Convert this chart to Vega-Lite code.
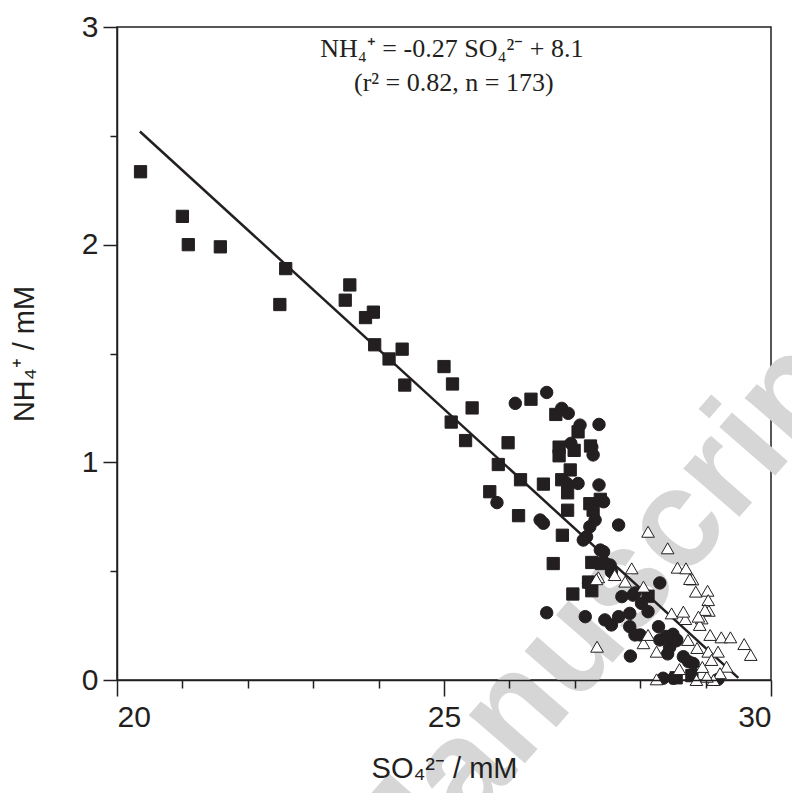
{
  "$schema": "https://vega.github.io/schema/vega-lite/v6.json",
  "width": 654,
  "height": 653,
  "autosize": {"type": "none"},
  "padding": {"left": 117, "top": 27, "right": 21, "bottom": 113},
  "background": "white",
  "config": {
    "view": {"stroke": "#231f20", "strokeWidth": 1.5},
    "axis": {
      "grid": false,
      "zindex": 2,
      "domainColor": "#231f20",
      "domainWidth": 1.5,
      "tickColor": "#231f20",
      "tickWidth": 1.5,
      "labelColor": "#231f20",
      "titleColor": "#231f20",
      "labelFont": "Liberation Sans",
      "titleFont": "Liberation Sans",
      "titleFontWeight": "normal"
    }
  },
  "datasets": {
    "pts": [
      {"site": "Middle shelf", "so4": 20.36, "nh4": 2.335},
      {"site": "Middle shelf", "so4": 21.0, "nh4": 2.13},
      {"site": "Middle shelf", "so4": 21.09, "nh4": 2.0},
      {"site": "Middle shelf", "so4": 21.58, "nh4": 1.99},
      {"site": "Middle shelf", "so4": 22.58, "nh4": 1.89},
      {"site": "Middle shelf", "so4": 22.49, "nh4": 1.725},
      {"site": "Middle shelf", "so4": 23.56, "nh4": 1.815},
      {"site": "Middle shelf", "so4": 23.49, "nh4": 1.745},
      {"site": "Middle shelf", "so4": 23.92, "nh4": 1.69},
      {"site": "Middle shelf", "so4": 23.8, "nh4": 1.665},
      {"site": "Middle shelf", "so4": 23.94, "nh4": 1.54},
      {"site": "Middle shelf", "so4": 24.36, "nh4": 1.52},
      {"site": "Middle shelf", "so4": 24.16, "nh4": 1.475},
      {"site": "Middle shelf", "so4": 24.4, "nh4": 1.355},
      {"site": "Middle shelf", "so4": 25.0, "nh4": 1.44},
      {"site": "Middle shelf", "so4": 25.13, "nh4": 1.36},
      {"site": "Middle shelf", "so4": 25.43, "nh4": 1.25},
      {"site": "Middle shelf", "so4": 25.11, "nh4": 1.185},
      {"site": "Middle shelf", "so4": 25.33, "nh4": 1.1},
      {"site": "Middle shelf", "so4": 25.98, "nh4": 1.09},
      {"site": "Middle shelf", "so4": 26.33, "nh4": 1.29},
      {"site": "Middle shelf", "so4": 26.71, "nh4": 1.22},
      {"site": "Middle shelf", "so4": 27.05, "nh4": 1.14},
      {"site": "Middle shelf", "so4": 26.76, "nh4": 1.07},
      {"site": "Middle shelf", "so4": 26.99, "nh4": 1.055},
      {"site": "Middle shelf", "so4": 26.76, "nh4": 1.03},
      {"site": "Middle shelf", "so4": 27.24, "nh4": 1.075},
      {"site": "Middle shelf", "so4": 25.83, "nh4": 0.99},
      {"site": "Middle shelf", "so4": 26.17, "nh4": 0.92},
      {"site": "Middle shelf", "so4": 26.52, "nh4": 0.9},
      {"site": "Middle shelf", "so4": 26.93, "nh4": 0.965},
      {"site": "Middle shelf", "so4": 26.8, "nh4": 0.92},
      {"site": "Middle shelf", "so4": 25.7, "nh4": 0.865},
      {"site": "Middle shelf", "so4": 26.14, "nh4": 0.755},
      {"site": "Middle shelf", "so4": 26.89, "nh4": 0.86},
      {"site": "Middle shelf", "so4": 26.89, "nh4": 0.78},
      {"site": "Middle shelf", "so4": 26.81, "nh4": 0.665},
      {"site": "Middle shelf", "so4": 27.23, "nh4": 0.81},
      {"site": "Middle shelf", "so4": 27.28, "nh4": 0.78},
      {"site": "Middle shelf", "so4": 27.39, "nh4": 0.83},
      {"site": "Middle shelf", "so4": 26.67, "nh4": 0.535},
      {"site": "Middle shelf", "so4": 27.26, "nh4": 0.54},
      {"site": "Middle shelf", "so4": 27.41, "nh4": 0.535},
      {"site": "Middle shelf", "so4": 26.97, "nh4": 0.395},
      {"site": "Middle shelf", "so4": 27.26, "nh4": 0.41},
      {"site": "Middle shelf", "so4": 27.21, "nh4": 0.45},
      {"site": "Middle shelf", "so4": 28.12, "nh4": 0.385},
      {"site": "Middle shelf", "so4": 28.79, "nh4": 0.02},
      {"site": "Middle shelf", "so4": 28.55, "nh4": 0.01},
      {"site": "Outer shelf", "so4": 26.09, "nh4": 1.271},
      {"site": "Outer shelf", "so4": 26.57, "nh4": 1.321},
      {"site": "Outer shelf", "so4": 26.8, "nh4": 1.248},
      {"site": "Outer shelf", "so4": 26.9, "nh4": 1.225},
      {"site": "Outer shelf", "so4": 27.08, "nh4": 1.171},
      {"site": "Outer shelf", "so4": 27.37, "nh4": 1.174},
      {"site": "Outer shelf", "so4": 26.94, "nh4": 1.087},
      {"site": "Outer shelf", "so4": 27.26, "nh4": 1.07},
      {"site": "Outer shelf", "so4": 27.28, "nh4": 1.034},
      {"site": "Outer shelf", "so4": 26.88, "nh4": 0.903},
      {"site": "Outer shelf", "so4": 27.05, "nh4": 0.903},
      {"site": "Outer shelf", "so4": 27.37, "nh4": 0.896},
      {"site": "Outer shelf", "so4": 25.81, "nh4": 0.815},
      {"site": "Outer shelf", "so4": 26.47, "nh4": 0.735},
      {"site": "Outer shelf", "so4": 26.52, "nh4": 0.72},
      {"site": "Outer shelf", "so4": 27.31, "nh4": 0.735},
      {"site": "Outer shelf", "so4": 27.23, "nh4": 0.704},
      {"site": "Outer shelf", "so4": 27.18, "nh4": 0.658},
      {"site": "Outer shelf", "so4": 27.13, "nh4": 0.643},
      {"site": "Outer shelf", "so4": 27.39, "nh4": 0.597},
      {"site": "Outer shelf", "so4": 27.21, "nh4": 0.444},
      {"site": "Outer shelf", "so4": 27.44, "nh4": 0.819},
      {"site": "Outer shelf", "so4": 27.67, "nh4": 0.712},
      {"site": "Outer shelf", "so4": 27.44, "nh4": 0.589},
      {"site": "Outer shelf", "so4": 27.54, "nh4": 0.528},
      {"site": "Outer shelf", "so4": 27.56, "nh4": 0.497},
      {"site": "Outer shelf", "so4": 28.3, "nh4": 0.446},
      {"site": "Outer shelf", "so4": 27.72, "nh4": 0.383},
      {"site": "Outer shelf", "so4": 27.89, "nh4": 0.39},
      {"site": "Outer shelf", "so4": 27.92, "nh4": 0.4},
      {"site": "Outer shelf", "so4": 28.02, "nh4": 0.352},
      {"site": "Outer shelf", "so4": 28.12, "nh4": 0.314},
      {"site": "Outer shelf", "so4": 27.16, "nh4": 0.291},
      {"site": "Outer shelf", "so4": 27.46, "nh4": 0.276},
      {"site": "Outer shelf", "so4": 27.56, "nh4": 0.253},
      {"site": "Outer shelf", "so4": 27.67, "nh4": 0.291},
      {"site": "Outer shelf", "so4": 27.84, "nh4": 0.306},
      {"site": "Outer shelf", "so4": 27.84, "nh4": 0.245},
      {"site": "Outer shelf", "so4": 27.92, "nh4": 0.207},
      {"site": "Outer shelf", "so4": 28.0, "nh4": 0.207},
      {"site": "Outer shelf", "so4": 28.28, "nh4": 0.245},
      {"site": "Outer shelf", "so4": 26.57, "nh4": 0.309},
      {"site": "Outer shelf", "so4": 27.85, "nh4": 0.11},
      {"site": "Outer shelf", "so4": 28.66, "nh4": 0.107},
      {"site": "Outer shelf", "so4": 28.74, "nh4": 0.084},
      {"site": "Outer shelf", "so4": 28.81, "nh4": 0.076},
      {"site": "Outer shelf", "so4": 28.35, "nh4": 0.008},
      {"site": "Outer shelf", "so4": 28.51, "nh4": 0.008},
      {"site": "Outer shelf", "so4": 29.19, "nh4": 0.003},
      {"site": "Outer shelf", "so4": 28.4, "nh4": 0.2},
      {"site": "Outer shelf", "so4": 28.45, "nh4": 0.15},
      {"site": "Outer shelf", "so4": 28.55, "nh4": 0.18},
      {"site": "Outer shelf", "so4": 28.5, "nh4": 0.21},
      {"site": "Outer shelf", "so4": 28.42, "nh4": 0.12},
      {"site": "Outer shelf", "so4": 28.3, "nh4": 0.184},
      {"site": "Outer shelf", "so4": 28.56, "nh4": 0.184},
      {"site": "OMZ", "so4": 28.12, "nh4": 0.681},
      {"site": "OMZ", "so4": 28.42, "nh4": 0.605},
      {"site": "OMZ", "so4": 27.87, "nh4": 0.513},
      {"site": "OMZ", "so4": 28.57, "nh4": 0.516},
      {"site": "OMZ", "so4": 28.7, "nh4": 0.513},
      {"site": "OMZ", "so4": 28.8, "nh4": 0.462},
      {"site": "OMZ", "so4": 28.76, "nh4": 0.464},
      {"site": "OMZ", "so4": 27.77, "nh4": 0.452},
      {"site": "OMZ", "so4": 28.05, "nh4": 0.429},
      {"site": "OMZ", "so4": 27.36, "nh4": 0.472},
      {"site": "OMZ", "so4": 27.61, "nh4": 0.482},
      {"site": "OMZ", "so4": 28.48, "nh4": 0.306},
      {"site": "OMZ", "so4": 28.85, "nh4": 0.406},
      {"site": "OMZ", "so4": 29.03, "nh4": 0.41},
      {"site": "OMZ", "so4": 29.04, "nh4": 0.367},
      {"site": "OMZ", "so4": 29.05, "nh4": 0.318},
      {"site": "OMZ", "so4": 28.94, "nh4": 0.283},
      {"site": "OMZ", "so4": 28.69, "nh4": 0.28},
      {"site": "OMZ", "so4": 29.07, "nh4": 0.207},
      {"site": "OMZ", "so4": 29.24, "nh4": 0.196},
      {"site": "OMZ", "so4": 29.38, "nh4": 0.196},
      {"site": "OMZ", "so4": 29.59, "nh4": 0.165},
      {"site": "OMZ", "so4": 29.69, "nh4": 0.115},
      {"site": "OMZ", "so4": 27.34, "nh4": 0.153},
      {"site": "OMZ", "so4": 28.05, "nh4": 0.169},
      {"site": "OMZ", "so4": 28.25, "nh4": 0.13},
      {"site": "OMZ", "so4": 28.12, "nh4": 0.207},
      {"site": "OMZ", "so4": 29.04, "nh4": 0.13},
      {"site": "OMZ", "so4": 29.19, "nh4": 0.13},
      {"site": "OMZ", "so4": 29.09, "nh4": 0.092},
      {"site": "OMZ", "so4": 29.32, "nh4": 0.061},
      {"site": "OMZ", "so4": 29.22, "nh4": 0.031},
      {"site": "OMZ", "so4": 28.25, "nh4": 0.003},
      {"site": "OMZ", "so4": 28.86, "nh4": 0.0},
      {"site": "OMZ", "so4": 29.12, "nh4": 0.0},
      {"site": "OMZ", "so4": 28.99, "nh4": 0.322},
      {"site": "OMZ", "so4": 27.33, "nh4": 0.463},
      {"site": "OMZ", "so4": 29.02, "nh4": 0.015},
      {"site": "OMZ", "so4": 28.91, "nh4": 0.253},
      {"site": "OMZ", "so4": 28.73, "nh4": 0.184},
      {"site": "OMZ", "so4": 28.87, "nh4": 0.147},
      {"site": "OMZ", "so4": 28.66, "nh4": 0.314},
      {"site": "OMZ", "so4": 28.89, "nh4": 0.291},
      {"site": "OMZ", "so4": 28.95, "nh4": 0.06},
      {"site": "OMZ", "so4": 28.6, "nh4": 0.05}
    ],
    "fit": [
      {"so4": 20.35, "nh4": 2.52},
      {"so4": 29.5, "nh4": 0.01}
    ],
    "notes": [
      {"so4": 25.12, "nh4": 2.862, "label": "NH₄⁺ = -0.27 SO₄²⁻ + 8.1"},
      {"so4": 25.15, "nh4": 2.706, "label": "(r² = 0.82, n = 173)"}
    ],
    "wm": [
      {"so4": 27.45, "nh4": 0.33, "label": "Manuscript"}
    ]
  },
  "resolve": {"axis": {"x": "independent", "y": "independent"}},
  "layer": [
    {
      "data": {"name": "wm"},
      "mark": {"type": "text", "font": "Liberation Sans", "fontWeight": "bold", "fontSize": 140, "angle": -49, "color": "#d6d6d6", "align": "center", "baseline": "middle", "clip": false},
      "encoding": {
        "x": {"field": "so4", "type": "quantitative", "scale": {"domain": [20, 30], "nice": false, "zero": false}, "axis": {"orient": "bottom", "zindex": 2, "values": [21, 22, 23, 24, 26, 27, 28, 29], "labels": false, "domain": false, "tickSize": 8, "title": null}},
        "y": {"field": "nh4", "type": "quantitative", "scale": {"domain": [0, 3], "nice": false, "zero": false}, "axis": {"orient": "left", "zindex": 2, "values": [0.5, 1.5, 2.5], "labels": false, "domain": false, "tickSize": 7, "title": null}},
        "text": {"field": "label"}
      }
    },
    {
      "data": {"name": "fit"},
      "mark": {"type": "line", "color": "#231f20", "strokeWidth": 2.5},
      "encoding": {
        "x": {"field": "so4", "type": "quantitative", "scale": {"domain": [20, 30], "nice": false, "zero": false}, "axis": {"orient": "bottom", "zindex": 2, "values": [20, 25, 30], "tickSize": 16, "labelFontSize": 30, "labelPadding": 6, "title": "SO₄²⁻ / mM", "titleFontSize": 29, "titlePadding": 22}},
        "y": {"field": "nh4", "type": "quantitative", "scale": {"domain": [0, 3], "nice": false, "zero": false}, "axis": {"orient": "left", "zindex": 2, "values": [0, 1, 2, 3], "tickSize": 14, "labelFontSize": 30, "labelPadding": 5, "title": "NH₄⁺ / mM", "titleFontSize": 29, "titlePadding": 42}}
      }
    },
    {
      "data": {"name": "pts"},
      "mark": {"type": "point", "filled": true, "stroke": "#231f20", "strokeWidth": 1, "opacity": 1},
      "encoding": {
        "x": {"field": "so4", "type": "quantitative", "scale": {"domain": [20, 30], "nice": false, "zero": false}, "axis": null},
        "y": {"field": "nh4", "type": "quantitative", "scale": {"domain": [0, 3], "nice": false, "zero": false}, "axis": null},
        "shape": {"field": "site", "type": "nominal", "scale": {"domain": ["Middle shelf", "Outer shelf", "OMZ"], "range": ["square", "circle", "triangle-up"]}, "legend": {"title": null, "orient": "none", "legendX": 411, "legendY": 182, "padding": 0, "labelFont": "Liberation Serif", "labelFontSize": 27, "labelColor": "#231f20", "symbolSize": 130, "symbolStrokeWidth": 1, "rowPadding": 13, "labelOffset": 16}},
        "fill": {"field": "site", "type": "nominal", "scale": {"domain": ["Middle shelf", "Outer shelf", "OMZ"], "range": ["#231f20", "#231f20", "#ffffff"]}, "legend": {"title": null, "orient": "none", "legendX": 411, "legendY": 182, "padding": 0, "labelFont": "Liberation Serif", "labelFontSize": 27, "labelColor": "#231f20", "symbolSize": 130, "symbolStrokeWidth": 1, "rowPadding": 13, "labelOffset": 16}},
        "size": {"field": "site", "type": "nominal", "scale": {"domain": ["Middle shelf", "Outer shelf", "OMZ"], "range": [150, 160, 230]}, "legend": null}
      }
    },
    {
      "data": {"name": "notes"},
      "mark": {"type": "text", "font": "Liberation Serif", "fontSize": 26, "color": "#231f20", "align": "center", "baseline": "alphabetic"},
      "encoding": {
        "x": {"field": "so4", "type": "quantitative", "scale": {"domain": [20, 30], "nice": false, "zero": false}, "axis": null},
        "y": {"field": "nh4", "type": "quantitative", "scale": {"domain": [0, 3], "nice": false, "zero": false}, "axis": null},
        "text": {"field": "label"}
      }
    }
  ]
}
